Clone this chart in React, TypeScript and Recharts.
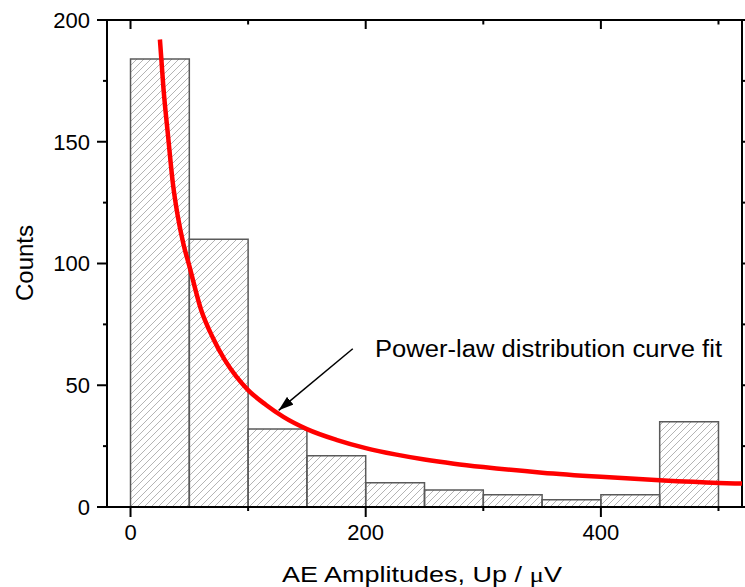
import { ComposedChart, Line, XAxis, YAxis, ReferenceArea, ReferenceLine } from 'recharts'

// histogram bins (µV) and counts
const binEdges = [0, 50, 100, 150, 200, 250, 300, 350, 400, 450, 500]
const counts = [184, 110, 32, 21, 10, 7, 5, 3, 5, 35]

// power-law fit curve
const fitX = [25, 28, 32, 36, 40, 45, 50, 60, 70, 80, 90, 100, 115, 130, 150, 175, 200, 225, 250, 275, 300, 350, 400, 450, 500, 520]
const fitY = [192, 172, 152, 133, 120, 108, 99, 81, 69.5, 60.5, 53.5, 48, 42, 37, 32, 27.6, 24.2, 21.6, 19.5, 17.8, 16.4, 14.1, 12.4, 11, 9.9, 9.6]

const xTicks = [0, 100, 200, 300, 400, 500]
const yTicks = [0, 25, 50, 75, 100, 125, 150, 175, 200]

const arrowFrom = { x: 189, y: 65 }
const arrowTo = { x: 126, y: 39.7 }

const FONT = '"Liberation Sans", Arial, sans-serif'

// plot box edges in px (top margin / right edge), used for mirrored ticks
const PLOT_TOP = 20
const PLOT_RIGHT = 742

const curveData = fitX.map((x, i) => ({ x, y: fitY[i] }))

function BottomTick({ x, y, payload }: any) {
  const major = payload.value % 200 === 0
  return (
    <g>
      <line x1={x} y1={y} x2={x} y2={y + (major ? 10 : 4)} stroke="#000" strokeWidth={2} />
      <line x1={x} y1={PLOT_TOP} x2={x} y2={PLOT_TOP + (major ? 9 : 4.5)} stroke="#000" strokeWidth={2} />
      {major && (
        <text x={x} y={y + 33} textAnchor="middle" fontSize={22} fontFamily={FONT} fill="#000">
          {payload.value}
        </text>
      )}
    </g>
  )
}

function LeftTick({ x, y, payload }: any) {
  const major = payload.value % 50 === 0
  return (
    <g>
      <line x1={x} y1={y} x2={x - (major ? 10 : 4)} y2={y} stroke="#000" strokeWidth={2} />
      <line x1={PLOT_RIGHT} y1={y} x2={PLOT_RIGHT + (major ? 10 : 4)} y2={y} stroke="#000" strokeWidth={2} />
      {major && (
        <text x={x - 17} y={y} dy="0.36em" textAnchor="end" fontSize={22} fontFamily={FONT} fill="#000">
          {payload.value}
        </text>
      )}
    </g>
  )
}

export default function App() {
  return (
    <div style={{ position: 'absolute', left: 0, top: 0, width: 745, height: 587, background: '#fff', fontFamily: FONT }}>
      <ComposedChart width={745} height={587} data={curveData} margin={{ top: PLOT_TOP, right: 745 - PLOT_RIGHT, left: 0, bottom: 0 }}>
        <defs>
          <pattern id="hatch" patternUnits="userSpaceOnUse" width={7} height={7}>
            <line x1={0} y1={7} x2={7} y2={0} stroke="#b4b4b4" strokeWidth={1} />
            <line x1={-1} y1={1} x2={1} y2={-1} stroke="#b4b4b4" strokeWidth={1} />
            <line x1={6} y1={8} x2={8} y2={6} stroke="#b4b4b4" strokeWidth={1} />
          </pattern>
          <marker id="arrowHead" markerUnits="userSpaceOnUse" markerWidth={15} markerHeight={10} refX={15} refY={5} orient="auto">
            <path d="M0,0 L15,5 L0,10 z" fill="#000" />
          </marker>
        </defs>

        <XAxis
          dataKey="x"
          type="number"
          domain={[-20, 520]}
          ticks={xTicks}
          interval={0}
          height={80}
          tickSize={0}
          tickMargin={0}
          tick={<BottomTick />}
          tickLine={false}
          axisLine={{ stroke: '#000', strokeWidth: 2 }}
          allowDataOverflow
        />
        <YAxis
          type="number"
          domain={[0, 200]}
          ticks={yTicks}
          interval={0}
          width={107}
          tickSize={0}
          tickMargin={0}
          tick={<LeftTick />}
          tickLine={false}
          axisLine={{ stroke: '#000', strokeWidth: 2 }}
          allowDataOverflow
        />

        {counts.map((c, i) => (
          <ReferenceArea
            key={i}
            x1={binEdges[i]}
            x2={binEdges[i + 1]}
            y1={0}
            y2={c}
            fill="url(#hatch)"
            fillOpacity={1}
            stroke="#5a5a5a"
            strokeWidth={1.5}
          />
        ))}

        <Line
          dataKey="y"
          type="monotone"
          stroke="#ff0000"
          strokeWidth={4.5}
          dot={false}
          activeDot={false}
          isAnimationActive={false}
        />

        {/* plot frame */}
        <ReferenceArea x1={-20} x2={520} y1={0} y2={200} fill="none" stroke="#000" strokeWidth={2} ifOverflow="visible" />

        <ReferenceLine
          segment={[arrowFrom, arrowTo]}
          shape={(p: any) => (
            <line x1={p.x1} y1={p.y1} x2={p.x2} y2={p.y2} stroke="#000" strokeWidth={1.5} markerEnd="url(#arrowHead)" />
          )}
        />

        <text x={375} y={357} fontSize={23} textLength={347} lengthAdjust="spacingAndGlyphs" fontFamily={FONT} fill="#000">
          Power-law distribution curve fit
        </text>
        <text x={282} y={582} fontSize={22} textLength={280} lengthAdjust="spacingAndGlyphs" fontFamily={FONT} fill="#000">
          AE Amplitudes, Up / <tspan fontFamily='"Liberation Serif", serif'>μ</tspan>V
        </text>
        <text x={33} y={263} transform="rotate(-90 33 263)" textAnchor="middle" fontSize={24} fontFamily={FONT} fill="#000">
          Counts
        </text>
      </ComposedChart>
    </div>
  )
}
